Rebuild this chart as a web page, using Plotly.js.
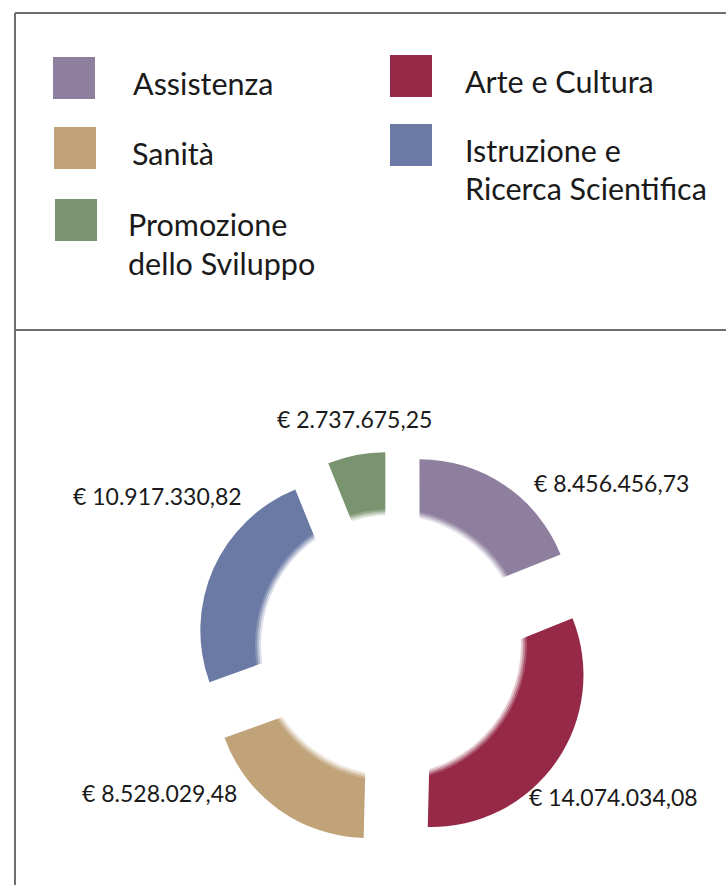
<!DOCTYPE html>
<html>
<head>
<meta charset="utf-8">
<script src="https://cdn.plot.ly/plotly-3.0.1.min.js"></script>
<style>
  html, body { margin: 0; padding: 0; background: #ffffff; }
  #chart { width: 726px; height: 885px; }
</style>
</head>
<body>
<div id="chart"></div>
<script>
// ---- data ----
const categories = ['Assistenza', 'Arte e Cultura', 'Sanità', 'Istruzione e Ricerca Scientifica', 'Promozione dello Sviluppo'];
const values = [8456456.73, 14074034.08, 8528029.48, 10917330.82, 2737675.25];
const colors = ['#8e7f9e', '#952947', '#c1a37a', '#6b7aa4', '#7a946f'];
const legendLines = [['Assistenza'], ['Arte e Cultura'], ['Sanità'], ['Istruzione e', 'Ricerca Scientifica'], ['Promozione', 'dello Sviluppo']];

// ---- layout constants (pixels) ----
const W = 726, H = 885;
const px = x => x / W;
const py = y => 1 - y / H;

function fmtEuro(v) {
  const parts = v.toFixed(2).split('.');
  return '€ ' + parts[0].replace(/\B(?=(\d{3})+(?!\d))/g, '.') + ',' + parts[1];
}

// value label anchors (left x, center y) per category
const labelPos = [[532, 483], [527, 797], [80, 793], [71, 496], [275, 419]];
// legend swatch (x0, y0) per category, size 42
const swatchPos = [[53, 57], [390, 55], [54, 127], [390, 124], [55, 199]];
// legend text (left x, first line center y)
const legendTextPos = [[131, 83], [463, 81], [130, 153], [463, 150], [126, 224]];
const legendLineGap = 38.5;

const FONT = 'Lato, "Open Sans", sans-serif';

const pieCx = 394, pieCy = 649, pieBox = 395.2;

const trace = {
  type: 'pie',
  labels: categories,
  values: values,
  sort: false,
  direction: 'clockwise',
  rotation: 0,
  pull: 0.30,
  hole: 0,
  marker: { colors: colors, line: { width: 0 } },
  textinfo: 'none',
  hoverinfo: 'label+value',
  showlegend: false,
  domain: {
    x: [px(pieCx - pieBox / 2), px(pieCx + pieBox / 2)],
    y: [py(pieCy + pieBox / 2), py(pieCy - pieBox / 2)]
  }
};

const shapes = [];
const annotations = [];

// frame lines
const lineStyle = { color: '#6e6e6e', width: 2 };
shapes.push({ type: 'line', xref: 'paper', yref: 'paper', x0: px(15), x1: 1, y0: py(13), y1: py(13), line: lineStyle, layer: 'above' });
shapes.push({ type: 'line', xref: 'paper', yref: 'paper', x0: px(15), x1: px(15), y0: py(13), y1: 0, line: lineStyle, layer: 'above' });
shapes.push({ type: 'line', xref: 'paper', yref: 'paper', x0: px(15), x1: 1, y0: py(330), y1: py(330), line: lineStyle, layer: 'above' });

// white centre disc (soft edge + solid)
const hc = [391, 645];
[[136, 0.2], [134, 0.35], [132, 0.55], [130, 1]].forEach(([r, a]) => {
  shapes.push({ type: 'circle', xref: 'paper', yref: 'paper', layer: 'above',
    x0: px(hc[0] - r), x1: px(hc[0] + r), y0: py(hc[1] + r), y1: py(hc[1] - r),
    fillcolor: 'rgba(255,255,255,' + a + ')', line: { width: 0 } });
});

// legend swatches + text
categories.forEach((c, i) => {
  const [sx, sy] = swatchPos[i];
  shapes.push({ type: 'rect', xref: 'paper', yref: 'paper', layer: 'above',
    x0: px(sx), x1: px(sx + 42), y0: py(sy + 42), y1: py(sy),
    fillcolor: colors[i], line: { width: 0 } });
  const [tx, ty] = legendTextPos[i];
  legendLines[i].forEach((ln, k) => {
    annotations.push({ xref: 'paper', yref: 'paper', x: px(tx), y: py(ty + k * legendLineGap),
      xanchor: 'left', yanchor: 'middle', showarrow: false, text: ln,
      font: { family: FONT, size: 30.5, color: '#1a1a1a' } });
  });
  const [lx, ly] = labelPos[i];
  annotations.push({ xref: 'paper', yref: 'paper', x: px(lx), y: py(ly),
    xanchor: 'left', yanchor: 'middle', showarrow: false, text: fmtEuro(values[i]),
    font: { family: FONT, size: 23, color: '#1a1a1a' } });
});

const layout = {
  width: W, height: H,
  margin: { l: 0, r: 0, t: 0, b: 0 },
  paper_bgcolor: '#ffffff',
  plot_bgcolor: '#ffffff',
  showlegend: false,
  shapes: shapes,
  annotations: annotations
};

Plotly.newPlot('chart', [trace], layout, { displayModeBar: false, staticPlot: true });
</script>
</body>
</html>
